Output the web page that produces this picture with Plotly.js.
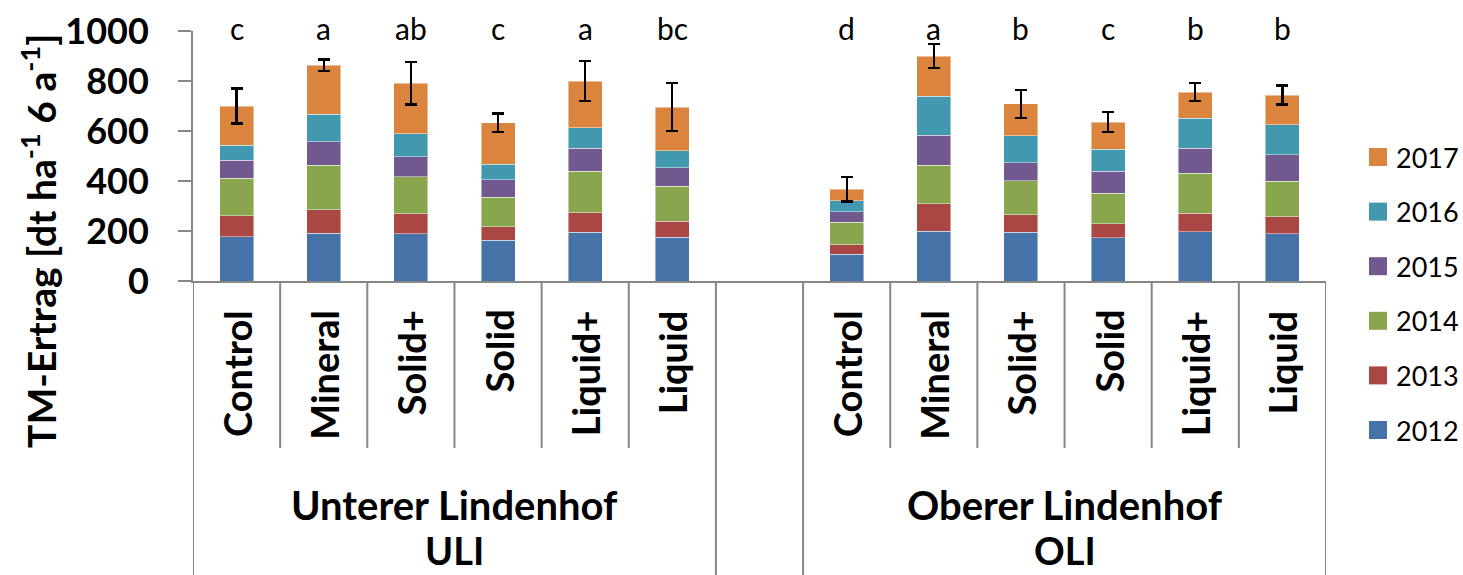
<!DOCTYPE html>
<html>
<head>
<meta charset="utf-8">
<script src="https://cdn.plot.ly/plotly-3.0.1.min.js"></script>
<style>
  html, body { margin: 0; padding: 0; background: #ffffff; }
  #chart { width: 1463px; height: 575px; }
</style>
</head>
<body>
<div id="chart"></div>
<script>
// Dry-matter yield per year, stacked; ULI treatments first, then OLI
const years = ['2012', '2013', '2014', '2015', '2016', '2017'];
const yearColors = ['#4572A7', '#AA4643', '#89A54E', '#71588F', '#4198AF', '#DB843D'];
const treatments = ['Control', 'Mineral', 'Solid+', 'Solid', 'Liquid+', 'Liquid'];
const siteNames = ['Unterer Lindenhof', 'Oberer Lindenhof'];
const siteCodes = ['ULI', 'OLI'];

const y2012 = [177, 191, 189, 164, 195, 175, 107, 199, 195, 173, 197, 189];
const y2013 = [84, 94, 80, 53, 78, 65, 38, 110, 70, 56, 74, 68];
const y2014 = [150, 178, 148, 118, 166, 140, 90, 155, 136, 122, 161, 143];
const y2015 = [73, 94, 80, 70, 92, 73, 42, 119, 72, 88, 99, 105];
const y2016 = [59, 110, 92, 63, 82, 68, 44, 157, 108, 89, 120, 120];
const y2017 = [157, 196, 202, 165, 187, 175, 46, 160, 128, 108, 104, 119];
const errTotal = [70, 23, 85, 37, 80, 95, 49, 48, 56, 39, 36, 38];
const letters = ['c', 'a', 'ab', 'c', 'a', 'bc', 'd', 'a', 'b', 'c', 'b', 'b'];

const series = [y2012, y2013, y2014, y2015, y2016, y2017];

// slot index on the x axis: one empty slot between the two sites
const nT = treatments.length;
const xs = [];
siteCodes.forEach((s, si) => treatments.forEach((t, ti) => xs.push(si * (nT + 1) + ti)));
const nSlots = siteCodes.length * (nT + 1) - 1;

// figure geometry (px)
const W = 1463, H = 575;
const M = { l: 193, r: 137, t: 31, b: 294 };
const plotW = W - M.l - M.r, plotH = H - M.t - M.b;
const px2py = p => (H - M.b - p) / plotH;      // page y -> paper y
const px2px = p => (p - M.l) / plotW;          // page x -> paper x

const axisGrey = '#868686';
const FONT = 'Lato, "Open Sans", sans-serif';

const traces = series.map((vals, i) => {
  const tr = {
    type: 'bar',
    name: years[i],
    x: xs,
    y: vals,
    marker: { color: yearColors[i], line: { color: 'rgba(255,255,255,0.45)', width: 1 } },
    showlegend: false,
    hoverinfo: 'name+y'
  };
  if (i === series.length - 1) {
    tr.error_y = { type: 'data', array: errTotal, visible: true, color: '#000000', thickness: 2.2, width: 6 };
  }
  return tr;
});

const shapes = [];
const annotations = [];

// category separators below the axis
for (let k = 0; k <= nSlots; k++) {
  const xb = k - 0.5;
  const siteEdge = (k % (nT + 1) === 0) || (k % (nT + 1) === nT) || k === nSlots;
  shapes.push({
    type: 'line', xref: 'x', yref: 'paper',
    x0: xb, x1: xb, y0: 0, y1: siteEdge ? px2py(H + 5) : px2py(448),
    line: { color: axisGrey, width: 2 }
  });
}

// treatment labels, significance letters
xs.forEach((x, i) => {
  annotations.push({
    xref: 'x', yref: 'paper', x: x, y: px2py(308),
    xanchor: 'center', yanchor: 'top', textangle: -90, showarrow: false,
    text: treatments[i % nT],
    font: { family: FONT, size: 38, weight: 700, color: '#000' }
  });
  annotations.push({
    xref: 'x', yref: 'y', x: x, y: 1000, yshift: 3,
    xanchor: 'center', yanchor: 'middle', showarrow: false,
    text: letters[i],
    font: { family: FONT, size: 30, color: '#000' }
  });
});

// site labels (two lines)
siteCodes.forEach((code, si) => {
  const xc = si * (nT + 1) + (nT - 1) / 2;
  annotations.push({
    xref: 'x', yref: 'paper', x: xc, y: px2py(505),
    xanchor: 'center', yanchor: 'middle', showarrow: false,
    text: siteNames[si],
    font: { family: FONT, size: 40, weight: 700, color: '#000' }
  });
  annotations.push({
    xref: 'x', yref: 'paper', x: xc, y: px2py(574),
    xanchor: 'center', yanchor: 'bottom', showarrow: false, borderpad: 0,
    text: code,
    font: { family: FONT, size: 38, weight: 700, color: '#000' }
  });
});

// y axis title
annotations.push({
  xref: 'paper', yref: 'paper', x: px2px(38), y: px2py(241),
  xanchor: 'center', yanchor: 'middle', textangle: -90, showarrow: false,
  text: 'TM-Ertrag [dt ha<sup>-1</sup> 6 a<sup>-1</sup>]',
  font: { family: FONT, size: 39, weight: 700, color: '#000' }
});

// legend, newest year on top
const legendTop = 157, legendStep = 54.6, sw = 18;
years.slice().reverse().forEach((yr, k) => {
  const ci = years.length - 1 - k;
  const cy = legendTop + k * legendStep;
  shapes.push({
    type: 'rect', xref: 'paper', yref: 'paper',
    x0: px2px(1369), x1: px2px(1369 + sw), y0: px2py(cy + sw / 2), y1: px2py(cy - sw / 2),
    fillcolor: yearColors[ci], line: { width: 0 }
  });
  annotations.push({
    xref: 'paper', yref: 'paper', x: px2px(1394), y: px2py(cy),
    xanchor: 'left', yanchor: 'middle', showarrow: false,
    text: yr,
    font: { family: FONT, size: 27, color: '#000' }
  });
});

const layout = {
  width: W, height: H,
  margin: M,
  paper_bgcolor: '#ffffff', plot_bgcolor: '#ffffff',
  barmode: 'stack',
  bargap: 0.61,
  showlegend: false,
  xaxis: {
    range: [-0.5, nSlots - 0.5],
    showticklabels: false, ticks: '', showgrid: false, zeroline: false,
    showline: true, linecolor: axisGrey, linewidth: 2
  },
  yaxis: {
    range: [0, 1000], tickvals: [0, 200, 400, 600, 800, 1000],
    showgrid: false, zeroline: false,
    showline: true, linecolor: axisGrey, linewidth: 2,
    ticks: 'outside', ticklen: 13, tickwidth: 2, tickcolor: axisGrey,
    ticklabelstandoff: 22,
    tickfont: { family: FONT, size: 36, weight: 700, color: '#000' }
  },
  shapes: shapes,
  annotations: annotations
};

Plotly.newPlot('chart', traces, layout, { staticPlot: true, displayModeBar: false });
</script>
</body>
</html>
